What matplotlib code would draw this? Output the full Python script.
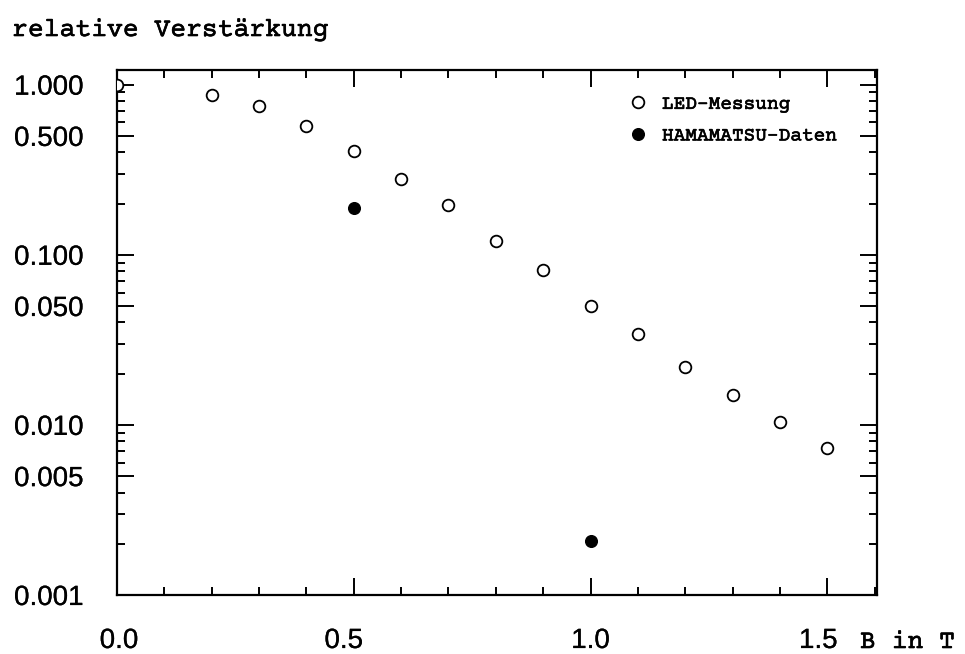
import matplotlib
matplotlib.use("Agg")
import matplotlib.pyplot as plt
import matplotlib.patheffects as pe
from matplotlib.ticker import FixedLocator, MultipleLocator, LogLocator, NullFormatter

# Relative gain of the photomultiplier versus magnetic field
b_led = [0.0, 0.2, 0.3, 0.4, 0.5, 0.6, 0.7, 0.8, 0.9, 1.0, 1.1, 1.2, 1.3, 1.4, 1.5]
gain_led = [1.0, 0.87, 0.75, 0.57, 0.41, 0.28, 0.195, 0.12, 0.081, 0.050,
            0.034, 0.022, 0.015, 0.0104, 0.0073]

b_hama = [0.5, 1.0]
gain_hama = [0.188, 0.00208]

y_ticks = [0.001, 0.005, 0.01, 0.05, 0.1, 0.5, 1.0]
y_tick_labels = ["0.001", "0.005", "0.010", "0.050", "0.100", "0.500", "1.000"]
x_ticks = [0.0, 0.5, 1.0, 1.5]
x_tick_labels = ["0.0", "0.5", "1.0", "1.5"]
# horizontal nudge (pixels) of each x label as set by the plotting package
x_label_shift = [2, -10, 0, -9]

mono = ["Courier Prime", "Liberation Mono", "DejaVu Sans Mono"]
sans = ["Liberation Sans", "DejaVu Sans"]

# slightly thicker strokes for the typewriter lettering
heavy = [pe.withStroke(linewidth=0.45, foreground="black")]
light_sans = [pe.withStroke(linewidth=0.15, foreground="black")]

fig = plt.figure(figsize=(9.65, 6.54), dpi=100)
ax = fig.add_axes([117 / 965, 1 - 595 / 654, 760 / 965, 525 / 654])

ax.set_yscale("log")
ax.set_xlim(0.0, 1.605)
ax.set_ylim(0.001, 1.22)

ax.plot(b_led, gain_led, linestyle="none", marker="o", markersize=8.4,
        markerfacecolor="white", markeredgecolor="black", markeredgewidth=1.3,
        label="LED-Messung", zorder=3)
ax.plot(b_hama, gain_hama, linestyle="none", marker="o", markersize=8.4,
        markerfacecolor="black", markeredgecolor="black", markeredgewidth=1.0,
        label="HAMAMATSU-Daten", zorder=3)

# axis ticks: labelled majors, minors at every decade step / 0.1 T
ax.yaxis.set_major_locator(FixedLocator(y_ticks))
ax.set_yticklabels(y_tick_labels)
ax.yaxis.set_minor_locator(LogLocator(base=10, subs=(2, 3, 4, 6, 7, 8, 9)))
ax.yaxis.set_minor_formatter(NullFormatter())
ax.xaxis.set_major_locator(FixedLocator(x_ticks))
ax.xaxis.set_minor_locator(MultipleLocator(0.1))

ax.tick_params(which="both", direction="in", top=True, right=True, width=1.4)
ax.tick_params(which="major", length=12)
ax.tick_params(which="minor", length=6)
ax.tick_params(axis="y", which="major", pad=24)
ax.tick_params(axis="x", which="both", labelbottom=False)
for lab in ax.get_yticklabels():
    lab.set_fontfamily(sans)
    lab.set_fontsize(20)
    lab.set_path_effects(light_sans)

# x tick labels placed below the axis
for xv, lab, dx in zip(x_ticks, x_tick_labels, x_label_shift):
    ax.annotate(lab, xy=(xv, 0), xycoords=("data", "axes fraction"),
                xytext=(dx, -53), textcoords="offset pixels",
                ha="center", va="baseline", family=sans, fontsize=20,
                annotation_clip=False, path_effects=light_sans)

for sp in ax.spines.values():
    sp.set_linewidth(1.6)

leg = ax.legend(loc="upper right", bbox_to_anchor=(0.949, 0.952), frameon=False,
                prop={"family": mono, "size": 14},
                handlelength=1.0, handletextpad=0.75, labelspacing=0.72,
                borderpad=0.0, borderaxespad=0.0, markerscale=1.0)
for t in leg.get_texts():
    t.set_path_effects(heavy)

fig.text(12 / 965, 1 - 36 / 654, "relative Verst\u00e4rkung", family=mono,
         fontsize=19, va="baseline", ha="left", path_effects=heavy)
fig.text(860 / 965, 1 - 648 / 654, "B in T", family=mono, fontsize=19,
         va="baseline", ha="left", path_effects=heavy)

fig.savefig("out.png", dpi=100)
